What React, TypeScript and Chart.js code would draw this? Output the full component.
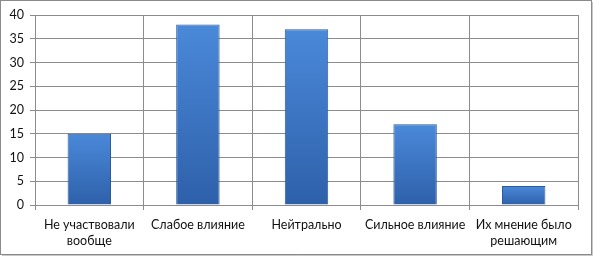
import React, { useEffect, useRef } from "react";
import { Chart, registerables } from "chart.js";

Chart.register(...registerables);

const categories: (string | string[])[] = [
  ["Не участвовали", "вообще"],
  "Слабое влияние",
  "Нейтрально",
  "Сильное влияние",
  ["Их мнение было", "решающим"],
];
const values: number[] = [15, 38, 37, 17, 4];
const yMin = 0;
const yMax = 40;
const yStep = 5;

const FONT = "Lato, 'Open Sans', sans-serif";
const GRID = "#8c8c8c";

export default function App() {
  const ref = useRef<HTMLCanvasElement | null>(null);

  useEffect(() => {
    document.body.style.margin = "0";
    const canvas = ref.current;
    if (!canvas) return;

    const framePlugin = {
      id: "frame",
      beforeDraw(chart: any) {
        const c = chart.ctx;
        c.save();
        c.fillStyle = "#ffffff";
        c.fillRect(0, 0, chart.width, chart.height);
        c.restore();
      },
      afterDraw(chart: any) {
        const c = chart.ctx;
        c.save();
        c.strokeStyle = "#c8c8c8";
        c.lineWidth = 1;
        c.beginPath();
        c.moveTo(592.5, 2);
        c.lineTo(592.5, 255.5);
        c.lineTo(2, 255.5);
        c.stroke();
        c.strokeStyle = "#8a8a8a";
        c.strokeRect(0.5, 0.5, 591, 254);
        c.restore();
      },
    };

    const chart = new Chart(canvas, {
      type: "bar",
      data: {
        labels: categories,
        datasets: [
          {
            data: values,
            backgroundColor: (ctx: any) => {
              const ch = ctx.chart;
              const ys = ch.scales?.y;
              if (!ch.chartArea || !ys || ctx.raw == null) return "#3d75c4";
              const top = ys.getPixelForValue(ctx.raw);
              const bottom = ys.getPixelForValue(0);
              const g = ch.ctx.createLinearGradient(0, top, 0, bottom);
              g.addColorStop(0, "#4a89d9");
              g.addColorStop(1, "#2e60aa");
              return g;
            },
            borderColor: "#2c5a98",
            borderWidth: 1,
            barPercentage: 0.4,
            categoryPercentage: 1,
          },
        ],
      },
      options: {
        responsive: false,
        animation: false,
        events: [],
        layout: { padding: { left: 0, top: 15, right: 15, bottom: 0 } },
        plugins: {
          legend: { display: false },
          tooltip: { enabled: false },
        },
        scales: {
          x: {
            grid: {
              color: GRID,
              offset: true,
              drawTicks: true,
              tickLength: 5,
            },
            border: { color: GRID },
            ticks: {
              color: "#111",
              font: { family: FONT, size: 12.5, lineHeight: 1.3 },
              padding: 7,
              maxRotation: 0,
              autoSkip: false,
            },
            afterFit(scale: any) {
              scale.height = 51;
            },
          },
          y: {
            min: yMin,
            max: yMax,
            grid: { color: GRID, tickLength: 5 },
            border: { color: GRID },
            ticks: {
              stepSize: yStep,
              color: "#111",
              font: { family: FONT, size: 12.5 },
              padding: 6,
            },
            afterFit(scale: any) {
              scale.width = 35;
            },
          },
        },
      },
      plugins: [framePlugin],
    });

    return () => chart.destroy();
  }, []);

  return (
    <div style={{ position: "absolute", left: 0, top: 0, width: 593, height: 256 }}>
      <canvas ref={ref} width={593} height={256} style={{ display: "block", width: 593, height: 256 }} />
    </div>
  );
}
